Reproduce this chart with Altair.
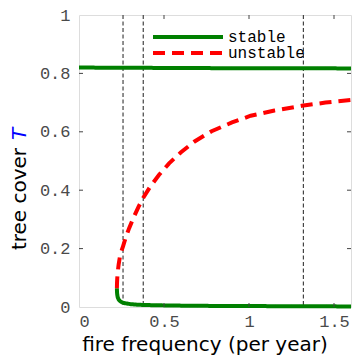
import altair as alt
import pandas as pd

# ---- data ----
stable_top_x = [0.0, 0.4, 0.8, 1.2, 1.6]
stable_top_y = [0.820, 0.819, 0.818, 0.818, 0.817]

stable_low_x = [0.223, 0.2235, 0.225, 0.228, 0.233, 0.240, 0.250, 0.262, 0.28, 0.30, 0.34, 0.38, 0.45, 0.55, 0.70, 0.90, 1.10, 1.30, 1.60]
stable_low_y = [0.064, 0.052, 0.042, 0.033, 0.026, 0.021, 0.017, 0.014, 0.012, 0.010, 0.008, 0.007, 0.006, 0.005, 0.004, 0.0035, 0.003, 0.0025, 0.002]

unstable_x = [0.223, 0.2235, 0.225, 0.228, 0.233, 0.240, 0.250, 0.259, 0.275, 0.295, 0.32, 0.35, 0.379, 0.42, 0.47, 0.53, 0.60, 0.68, 0.78, 0.90, 1.01, 1.15, 1.31, 1.45, 1.60]
unstable_y = [0.064, 0.080, 0.098, 0.120, 0.145, 0.170, 0.192, 0.208, 0.238, 0.270, 0.305, 0.343, 0.375, 0.413, 0.452, 0.492, 0.530, 0.567, 0.602, 0.632, 0.655, 0.673, 0.689, 0.700, 0.709]

vlines_x = [0.259, 0.378, 1.32]

x_ticks = [0.5, 1.0, 1.5]
y_ticks = [0.2, 0.4, 0.6, 0.8]

W, H = 272, 292

rows = []
for i, (x, y) in enumerate(zip(stable_top_x, stable_top_y)):
    rows.append(dict(x=x, y=y, type="stable", branch="top", o=i))
for i, (x, y) in enumerate(zip(stable_low_x, stable_low_y)):
    rows.append(dict(x=x, y=y, type="stable", branch="low", o=i))
for i, (x, y) in enumerate(zip(unstable_x, unstable_y)):
    rows.append(dict(x=x, y=y, type="unstable", branch="uns", o=i))
df = pd.DataFrame(rows)

xscale = alt.Scale(domain=[0, 1.6], nice=False)
yscale = alt.Scale(domain=[0, 1], nice=False)

lab_font = "Liberation Mono"

xaxis = alt.Axis(values=[0, 0.5, 1, 1.5], format="~g", title=None, domain=False, ticks=False, grid=False,
                 labelFont=lab_font, labelFontSize=17, labelColor="#4a4a4a", labelPadding=6)
yaxis = alt.Axis(values=[0, 0.2, 0.4, 0.6, 0.8, 1], format="~g", title=None, domain=False, ticks=False, grid=False,
                 labelFont=lab_font, labelFontSize=17, labelColor="#4a4a4a", labelPadding=9)

vl = alt.Chart(pd.DataFrame({"x": vlines_x})).mark_rule(
    color="#444444", strokeWidth=1.2, strokeDash=[4, 2.5]
).encode(x=alt.X("x:Q", scale=xscale, axis=xaxis))

leg = dict(title=None, orient="none", legendX=72, legendY=16,
           symbolType="stroke", symbolSize=4900, symbolStrokeWidth=4,
           clipHeight=12, rowPadding=0, padding=0,
           labelFont=lab_font, labelFontSize=16, labelColor="black",
           labelOffset=3, symbolOffset=0)

lines = alt.Chart(df).mark_line(strokeWidth=4, strokeCap="butt").encode(
    x=alt.X("x:Q", scale=xscale, axis=xaxis),
    y=alt.Y("y:Q", scale=yscale, axis=yaxis),
    color=alt.Color("type:N", scale=alt.Scale(domain=["stable", "unstable"], range=["#008000", "#ff0000"]),
                    legend=alt.Legend(**leg)),
    strokeDash=alt.StrokeDash("type:N", scale=alt.Scale(domain=["stable", "unstable"], range=[[1, 0], [12, 7]]),
                              legend=alt.Legend(**leg)),
    detail="branch:N",
    order="o:Q",
)

tick_col = "#444444"
xt = pd.DataFrame({"t": x_ticks})
yt = pd.DataFrame({"t": y_ticks})
xt_bot = alt.Chart(xt).mark_rule(color=tick_col, strokeWidth=1).encode(
    x=alt.X("t:Q", scale=xscale), y=alt.value(H), y2=alt.value(H - 4))
xt_top = alt.Chart(xt).mark_rule(color=tick_col, strokeWidth=1).encode(
    x=alt.X("t:Q", scale=xscale), y=alt.value(0), y2=alt.value(4))
yt_l = alt.Chart(yt).mark_rule(color=tick_col, strokeWidth=1).encode(
    y=alt.Y("t:Q", scale=yscale), x=alt.value(0), x2=alt.value(4))
yt_r = alt.Chart(yt).mark_rule(color=tick_col, strokeWidth=1).encode(
    y=alt.Y("t:Q", scale=yscale), x=alt.value(W), x2=alt.value(W - 4))

xtitle = alt.Chart(pd.DataFrame({"t": ["fire frequency (per year)"]})).mark_text(
    font="DejaVu Sans", fontSize=20, color="black", align="center", baseline="alphabetic"
).encode(text="t:N", x=alt.value(126), y=alt.value(336))

ytitle = alt.Chart(pd.DataFrame({"t": ["tree cover"]})).mark_text(
    font="DejaVu Sans", fontSize=20, color="black", align="center", baseline="middle", angle=270
).encode(text="t:N", x=alt.value(-59), y=alt.value(184))

ytitleT = alt.Chart(pd.DataFrame({"t": ["T"]})).mark_text(
    font="DejaVu Sans", fontSize=20, color="#0000ff", fontStyle="italic", align="center", baseline="middle", angle=270
).encode(text="t:N", x=alt.value(-59), y=alt.value(119))

chart = alt.layer(vl, lines, xt_bot, xt_top, yt_l, yt_r, xtitle, ytitle, ytitleT).properties(
    width=W, height=H,
    autosize=alt.AutoSizeParams(type="none"),
    padding={"left": 71, "top": 7, "right": 1, "bottom": 52},
).configure_view(stroke="#333333", strokeWidth=1).configure(background="white")

chart.save("out.html", embed_options={"renderer": "svg", "actions": False})
